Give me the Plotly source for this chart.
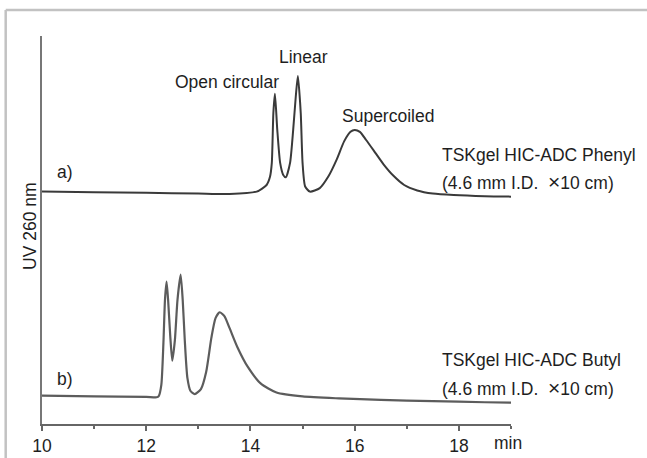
import plotly.graph_objects as go

# Retention time (min) and UV 260 nm response (arbitrary units) for each column
phenyl_time = [10.0, 11.0, 12.0, 13.0, 13.6, 14.12, 14.31, 14.375, 14.41, 14.44, 14.47,
               14.515, 14.57, 14.63, 14.68, 14.76, 14.82, 14.87, 14.91, 14.965, 15.0,
               15.05, 15.14, 15.33, 15.5, 15.65, 15.8, 15.92, 16.0, 16.1, 16.22, 16.37,
               16.55, 16.75, 16.95, 17.2, 17.5, 17.9, 18.5, 19.0]
phenyl_signal = [59.9, 59.7, 59.6, 59.4, 59.3, 59.9, 61.6, 63.7, 67.3, 80.2, 85.1,
                 75.8, 67.3, 64.2, 63.6, 67.3, 75.8, 84.4, 89.7, 80.2, 67.3,
                 61.2, 59.9, 60.8, 63.9, 68.0, 72.9, 75.3, 75.8, 75.3, 73.2, 70.4,
                 67.0, 63.9, 61.6, 60.2, 59.4, 59.0, 58.7, 58.6]

butyl_time = [10.0, 11.0, 12.0, 12.2, 12.24, 12.29, 12.33, 12.36, 12.39, 12.42, 12.46,
              12.5, 12.55, 12.6, 12.66, 12.7, 12.74, 12.79, 12.85, 12.93, 13.05, 13.15,
              13.25, 13.33, 13.41, 13.5, 13.6, 13.75, 13.95, 14.2, 14.5, 15.0, 15.7,
              16.5, 17.5, 18.5, 19.0]
butyl_signal = [7.3, 7.1, 7.0, 6.9, 7.2, 10.1, 20.9, 32.0, 36.7, 32.0, 22.9,
                16.3, 21.6, 32.0, 38.5, 32.0, 21.6, 11.9, 8.5, 7.7, 9.0, 13.4,
                22.2, 27.3, 28.8, 27.8, 24.7, 19.8, 14.7, 10.4, 8.1, 7.1, 6.6,
                6.2, 5.9, 5.6, 5.5]

x_ticks = [10, 12, 14, 16, 18]

peak_labels = ["Open circular", "Linear", "Supercoiled"]
peak_label_x = [13.55, 15.01, 16.64]
peak_label_y = [88.1, 94.6, 79.4]

CROSS = "<span style='font-size:21px'>\u00d7</span>"
column_lines = [["TSKgel HIC-ADC Phenyl", "(4.6 mm I.D.&nbsp; " + CROSS + "10 cm)"],
                ["TSKgel HIC-ADC Butyl", "(4.6 mm I.D.&nbsp; " + CROSS + "10 cm)"]]
column_line_y = [[69.3, 62.4], [16.5, 9.5]]
panel_tags = ["a)", "b)"]
panel_tag_y = [64.9, 11.6]

FONT = "Liberation Sans, Arial, sans-serif"
TXT = "#1e1e1e"
FS = 17.5

fig = go.Figure()
fig.add_trace(go.Scatter(x=phenyl_time, y=phenyl_signal, mode="lines",
                         line=dict(color="#3a3a3a", width=2, shape="spline", smoothing=0.6),
                         hoverinfo="skip", showlegend=False))
fig.add_trace(go.Scatter(x=butyl_time, y=butyl_signal, mode="lines",
                         line=dict(color="#5c5c5c", width=2.2, shape="spline", smoothing=0.6),
                         hoverinfo="skip", showlegend=False))

ann = []
for txt, xx, yy in zip(peak_labels, peak_label_x, peak_label_y):
    ann.append(dict(x=xx, y=yy, xref="x", yref="y", text=txt, showarrow=False,
                    xanchor="center", yanchor="middle", font=dict(size=FS, color=TXT, family=FONT)))
for lines, ys in zip(column_lines, column_line_y):
    for txt, yy in zip(lines, ys):
        ann.append(dict(x=17.64, y=yy, xref="x", yref="y", text=txt, showarrow=False,
                        xanchor="left", yanchor="middle", font=dict(size=FS, color=TXT, family=FONT)))
for tag, yy in zip(panel_tags, panel_tag_y):
    ann.append(dict(x=10.25, y=yy, xref="x", yref="y", text=tag, showarrow=False,
                    xanchor="left", yanchor="middle", font=dict(size=FS, color=TXT, family=FONT)))
ann.append(dict(x=18.94, y=-0.049, xref="x", yref="paper", text="min", showarrow=False,
                xanchor="center", yanchor="middle", font=dict(size=FS, color=TXT, family=FONT)))
ann.append(dict(x=-0.026, y=0.51, xref="paper", yref="paper", text="UV 260 nm", showarrow=False,
                textangle=-90, xanchor="center", yanchor="middle",
                font=dict(size=FS, color=TXT, family=FONT)))

# Light frame along the top and left edges of the page
shapes = [
    dict(type="line", xref="paper", yref="paper", x0=-0.0774, x1=1.35, y0=1.067, y1=1.067,
         line=dict(color="#c2c2c2", width=2.5)),
    dict(type="line", xref="paper", yref="paper", x0=-0.0774, x1=-0.0774, y0=1.067, y1=-0.12,
         line=dict(color="#c2c2c2", width=2.5)),
]

fig.update_layout(
    width=647, height=458,
    margin=dict(l=42, r=136, t=36, b=34, autoexpand=False),
    paper_bgcolor="white", plot_bgcolor="white",
    annotations=ann, shapes=shapes,
    font=dict(family=FONT, size=FS, color=TXT),
)
fig.update_xaxes(range=[10, 19], automargin=False, showgrid=False, zeroline=False,
                 showline=True, linecolor="#666666", linewidth=1.6, ticks="outside",
                 ticklen=5, tickcolor="#666666", tickwidth=1.5, tickvals=x_ticks,
                 ticklabelstandoff=0,
                 minor=dict(dtick=1, tick0=10, ticks="outside", ticklen=3,
                            tickcolor="#666666", tickwidth=1.5),
                 tickfont=dict(size=FS, color=TXT, family=FONT))
fig.update_yaxes(range=[0, 100], automargin=False, showgrid=False, zeroline=False,
                 showline=True, linecolor="#777777", linewidth=1.8,
                 showticklabels=False, ticks="")

fig.write_html("out.html")
